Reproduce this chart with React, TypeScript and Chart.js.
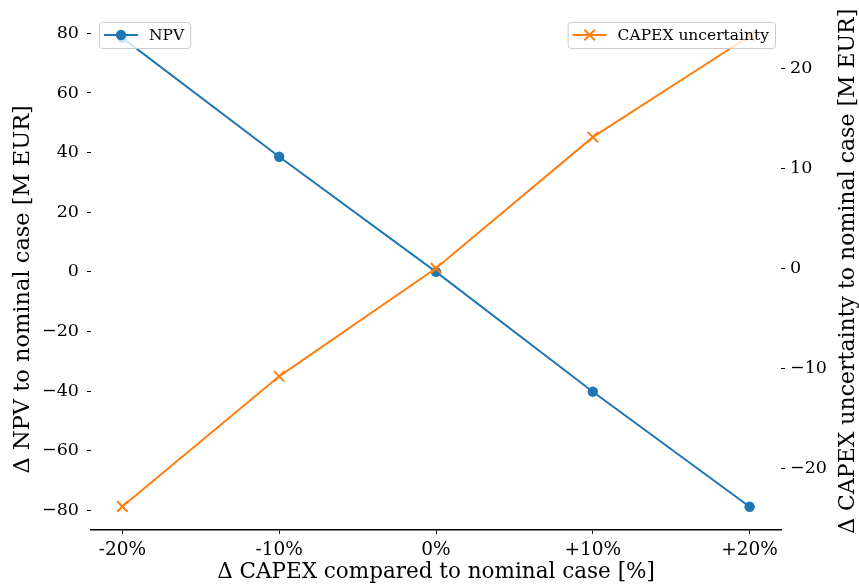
import React, { useEffect, useRef } from "react";
import { Chart, registerables } from "chart.js";

Chart.register(...registerables);

// ---- data ----
const capexChange = [-20, -10, 0, 10, 20];
const npvDelta = [78.5, 38.6, 0, -40.2, -78.8];
const capexUncertainty = [-23.8, -10.8, 0, 13.1, 23.2];
const xTickValues = [-20, -10, 0, 10, 20];
const npvTickValues = [-80, -60, -40, -20, 0, 20, 40, 60, 80];
const uncTickValues = [-20, -10, 0, 10, 20];
const seriesNames = ["NPV", "CAPEX uncertainty"];
const xTitle = "Δ CAPEX compared to nominal case [%]";
const yTitle = "Δ NPV to nominal case [M EUR]";
const y2Title = "Δ CAPEX uncertainty to nominal case [M EUR]";

const BLUE = "#1f77b4";
const ORANGE = "#ff7f0e";
const FONT = "'DejaVu Serif', serif";
const TITLE_SIZE = 21.5;

const fmtMinus = (v: number) => (v < 0 ? "\u2212" + Math.abs(v) : String(v));
const fmtPct = (v: number) => (v > 0 ? "+" + v + "%" : v + "%");

function drawLegend(
  ctx: CanvasRenderingContext2D,
  x: number,
  y: number,
  text: string,
  color: string,
  marker: "circle" | "cross",
  align: "left" | "right"
) {
  ctx.save();
  ctx.font = `15.5px ${FONT}`;
  const tw = ctx.measureText(text).width;
  const w = 5 + 34 + 11 + tw + 6;
  const h = 26;
  const left = align === "left" ? x : x - w;
  ctx.beginPath();
  (ctx as any).roundRect(left + 0.5, y + 0.5, w, h, 3);
  ctx.fillStyle = "rgba(255,255,255,0.8)";
  ctx.fill();
  ctx.strokeStyle = "#cccccc";
  ctx.lineWidth = 1;
  ctx.stroke();
  const cy = y + h / 2;
  ctx.strokeStyle = color;
  ctx.lineWidth = 2;
  ctx.beginPath();
  ctx.moveTo(left + 5, cy);
  ctx.lineTo(left + 39, cy);
  ctx.stroke();
  const mx = left + 22;
  if (marker === "circle") {
    ctx.fillStyle = color;
    ctx.beginPath();
    ctx.arc(mx, cy, 5.2, 0, Math.PI * 2);
    ctx.fill();
  } else {
    const d = 5.2;
    ctx.beginPath();
    ctx.moveTo(mx - d, cy - d);
    ctx.lineTo(mx + d, cy + d);
    ctx.moveTo(mx - d, cy + d);
    ctx.lineTo(mx + d, cy - d);
    ctx.stroke();
  }
  ctx.fillStyle = "#000";
  ctx.textAlign = "left";
  ctx.textBaseline = "middle";
  ctx.fillText(text, left + 50, cy + 1);
  ctx.restore();
}

function drawVerticalTitle(ctx: CanvasRenderingContext2D, text: string, x: number, y: number, size: number) {
  ctx.save();
  ctx.font = `${size}px ${FONT}`;
  ctx.fillStyle = "#000";
  ctx.textAlign = "center";
  ctx.textBaseline = "middle";
  ctx.translate(x, y);
  ctx.rotate(-Math.PI / 2);
  ctx.fillText(text, 0, 0);
  ctx.restore();
}

const overlayPlugin = {
  id: "overlay",
  afterDraw(chart: any) {
    const ctx: CanvasRenderingContext2D = chart.ctx;
    const a = chart.chartArea;
    const mid = (a.top + a.bottom) / 2;
    drawVerticalTitle(ctx, yTitle, 23, mid + 18, 22.5);
    drawVerticalTitle(ctx, y2Title, chart.width - 11, mid, 22);
    drawLegend(ctx, a.left + 8, a.top + 9.5, seriesNames[0], BLUE, "circle", "left");
    drawLegend(ctx, a.right - 6, a.top + 9.5, seriesNames[1], ORANGE, "cross", "right");
  },
};

const zeroPad = (s: any) => {
  s.paddingTop = 0;
  s.paddingBottom = 0;
};

export default function App() {
  const ref = useRef<HTMLCanvasElement | null>(null);

  useEffect(() => {
    if (!ref.current) return;
    const yTickFont = { family: FONT, size: 17.5 };
    const xTickFont = { family: FONT, size: 18.5 };
    const titleFont = { family: FONT, size: TITLE_SIZE };
    const chart = new Chart(ref.current, {
      type: "line",
      data: {
        datasets: [
          {
            label: seriesNames[1],
            data: capexChange.map((x, i) => ({ x, y: capexUncertainty[i] })),
            yAxisID: "y2",
            borderColor: ORANGE,
            backgroundColor: ORANGE,
            borderWidth: 2,
            pointStyle: "crossRot",
            pointRadius: 7.4,
            pointBorderWidth: 2,
            pointBorderColor: ORANGE,
            order: 0,
          },
          {
            label: seriesNames[0],
            data: capexChange.map((x, i) => ({ x, y: npvDelta[i] })),
            yAxisID: "y",
            borderColor: BLUE,
            backgroundColor: BLUE,
            borderWidth: 2,
            pointStyle: "circle",
            pointRadius: 5.2,
            pointBorderWidth: 0,
            pointBackgroundColor: BLUE,
            order: 1,
          },
        ],
      },
      options: {
        responsive: false,
        animation: false,
        devicePixelRatio: 1,
        events: [],
        layout: { padding: { top: 12.5, left: 0, right: 0, bottom: 0 } },
        plugins: { legend: { display: false }, tooltip: { enabled: false } },
        scales: {
          x: {
            type: "linear",
            position: "bottom",
            min: -22,
            max: 22,
            afterBuildTicks: (s: any) => {
              s.ticks = xTickValues.map((v) => ({ value: v }));
            },
            afterFit: (s: any) => {
              s.height = 55;
              s.paddingLeft = 0;
              s.paddingRight = 0;
            },
            ticks: {
              callback: (v: any) => fmtPct(Number(v)),
              font: xTickFont,
              color: "#000",
              padding: 5,
              maxRotation: 0,
            },
            grid: { drawOnChartArea: false, tickLength: 4, color: "#000", tickWidth: 1 },
            border: { display: true, color: "#000", width: 1.5 },
            title: {
              display: true,
              text: xTitle,
              font: titleFont,
              color: "#000",
              padding: { top: 0, bottom: 0 },
            },
          },
          y: {
            type: "linear",
            position: "left",
            min: -86.6,
            max: 87.0,
            afterBuildTicks: (s: any) => {
              s.ticks = npvTickValues.map((v) => ({ value: v }));
            },
            afterFit: (s: any) => {
              s.width = 91;
              zeroPad(s);
            },
            ticks: {
              callback: (v: any) => fmtMinus(Number(v)),
              font: yTickFont,
              color: "#000",
              padding: 8,
            },
            grid: { drawOnChartArea: false, tickLength: 4, color: "#000", tickWidth: 1 },
            border: { display: false },
          },
          y2: {
            type: "linear",
            position: "right",
            min: -26.15,
            max: 25.55,
            afterBuildTicks: (s: any) => {
              s.ticks = uncTickValues.map((v) => ({ value: v }));
            },
            afterFit: (s: any) => {
              s.width = 78;
              zeroPad(s);
            },
            ticks: {
              callback: (v: any) => fmtMinus(Number(v)),
              font: yTickFont,
              color: "#000",
              padding: 5,
            },
            grid: { drawOnChartArea: false, tickLength: 4, color: "#000", tickWidth: 1 },
            border: { display: false },
          },
        },
      },
      plugins: [overlayPlugin],
    } as any);
    return () => chart.destroy();
  }, []);

  return (
    <div style={{ position: "fixed", left: 0, top: 0, width: 859, height: 585, background: "#fff" }}>
      <canvas ref={ref} width={859} height={585} style={{ width: 859, height: 585, display: "block" }} />
    </div>
  );
}
